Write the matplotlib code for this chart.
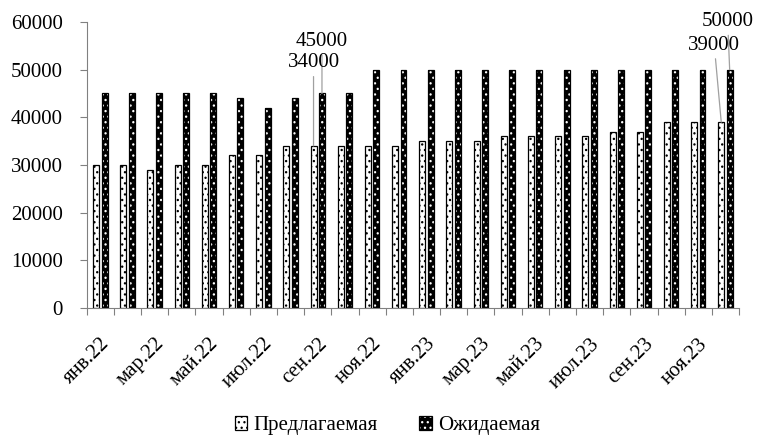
import matplotlib
matplotlib.use("Agg")
import matplotlib.pyplot as plt
import numpy as np
from matplotlib.patches import Patch
from matplotlib.legend_handler import HandlerTuple
from matplotlib.ticker import FixedLocator, NullFormatter

plt.rcParams['font.family'] = ['Liberation Serif', 'DejaVu Serif']
plt.rcParams['hatch.linewidth'] = 0.9

months = ['янв.22', 'фев.22', 'мар.22', 'апр.22', 'май.22', 'июн.22', 'июл.22', 'авг.22',
          'сен.22', 'окт.22', 'ноя.22', 'дек.22', 'янв.23', 'фев.23', 'мар.23', 'апр.23',
          'май.23', 'июн.23', 'июл.23', 'авг.23', 'сен.23', 'окт.23', 'ноя.23', 'дек.23']
offered = [30000, 30000, 29000, 30000, 30000, 32000, 32000, 34000, 34000, 34000, 34000, 34000,
           35000, 35000, 35000, 36000, 36000, 36000, 36000, 37000, 37000, 39000, 39000, 39000]
expected = [45000, 45000, 45000, 45000, 45000, 44000, 42000, 44000, 45000, 45000, 50000, 50000,
            50000, 50000, 50000, 50000, 50000, 50000, 50000, 50000, 50000, 50000, 50000, 50000]
series_names = ['Предлагаемая', 'Ожидаемая']
yticks = [0, 10000, 20000, 30000, 40000, 50000, 60000]

FS = 15
fig = plt.figure(figsize=(7.58, 4.38), dpi=100)
ax = fig.add_axes([0.1144, 0.2968, 0.975 - 0.1144, 0.9498 - 0.2968])

x = np.arange(len(months))
w = 0.22
off = 0.155
hatch = '...'

# Предлагаемая: white with black dots
ax.bar(x - off, offered, w, facecolor='white', edgecolor='black', hatch=hatch, linewidth=0)
ax.bar(x - off, offered, w, fill=False, edgecolor='black', linewidth=0.9)
# Ожидаемая: black with white dots
ax.bar(x + off, expected, w, facecolor='black', edgecolor='white', hatch=hatch, linewidth=0)
ax.bar(x + off, expected, w, fill=False, edgecolor='black', linewidth=0.9)

ax.set_xlim(-0.5, len(months) - 0.5)
ax.set_ylim(0, 60000)
ax.set_yticks(yticks)
ax.set_yticklabels([str(v) for v in yticks])

ax.set_xticks(x[::2])
ax.set_xticklabels(months[::2], rotation=45, ha='right', rotation_mode='anchor')
ax.xaxis.set_minor_locator(FixedLocator(np.arange(-0.5, len(months), 1.0)))
ax.xaxis.set_minor_formatter(NullFormatter())
ax.tick_params(axis='x', which='major', length=0, pad=19, labelsize=FS)
ax.tick_params(axis='x', which='minor', length=5, color='#808080', width=0.8)
ax.tick_params(axis='y', length=5, color='#808080', width=0.8, labelsize=FS, pad=12)

for s in ['top', 'right']:
    ax.spines[s].set_visible(False)
for s in ['left', 'bottom']:
    ax.spines[s].set_color('#808080')
    ax.spines[s].set_linewidth(0.8)

px = 0.72  # points per pixel at dpi 100
line = dict(arrowstyle='-', color='#a0a0a0', lw=0.9, shrinkA=1, shrinkB=0)
i = months.index('сен.22')
ax.annotate(str(expected[i]), xy=(x[i] + off, expected[i]), xytext=(0, 52 * px),
            textcoords='offset points', ha='center', va='center', fontsize=FS, arrowprops=line)
ax.annotate(str(offered[i]), xy=(x[i] - off, offered[i]), xytext=(0, 83 * px),
            textcoords='offset points', ha='center', va='center', fontsize=FS, arrowprops=line)
j = months.index('дек.23')
ax.annotate(str(expected[j]), xy=(x[j] + off, expected[j]), xytext=(-2 * px, 48 * px),
            textcoords='offset points', ha='center', va='center', fontsize=FS, arrowprops=line)
ax.annotate(str(offered[j]), xy=(x[j] - off, offered[j]), xytext=(-7 * px, 77 * px),
            textcoords='offset points', ha='center', va='center', fontsize=FS, arrowprops=line)

h1 = (Patch(facecolor='white', edgecolor='black', hatch=hatch, linewidth=0),
      Patch(fill=False, edgecolor='black', linewidth=0.9))
h2 = (Patch(facecolor='black', edgecolor='white', hatch=hatch, linewidth=0),
      Patch(fill=False, edgecolor='black', linewidth=0.9))
fig.legend([h1, h2], series_names, handler_map={tuple: HandlerTuple(ndivide=1)},
           loc='center', bbox_to_anchor=(0.511, 0.028), ncol=2, frameon=False,
           fontsize=FS, handlelength=0.6, handleheight=0.6, handletextpad=0.3,
           columnspacing=2.0)

fig.savefig('out.png', dpi=100)
